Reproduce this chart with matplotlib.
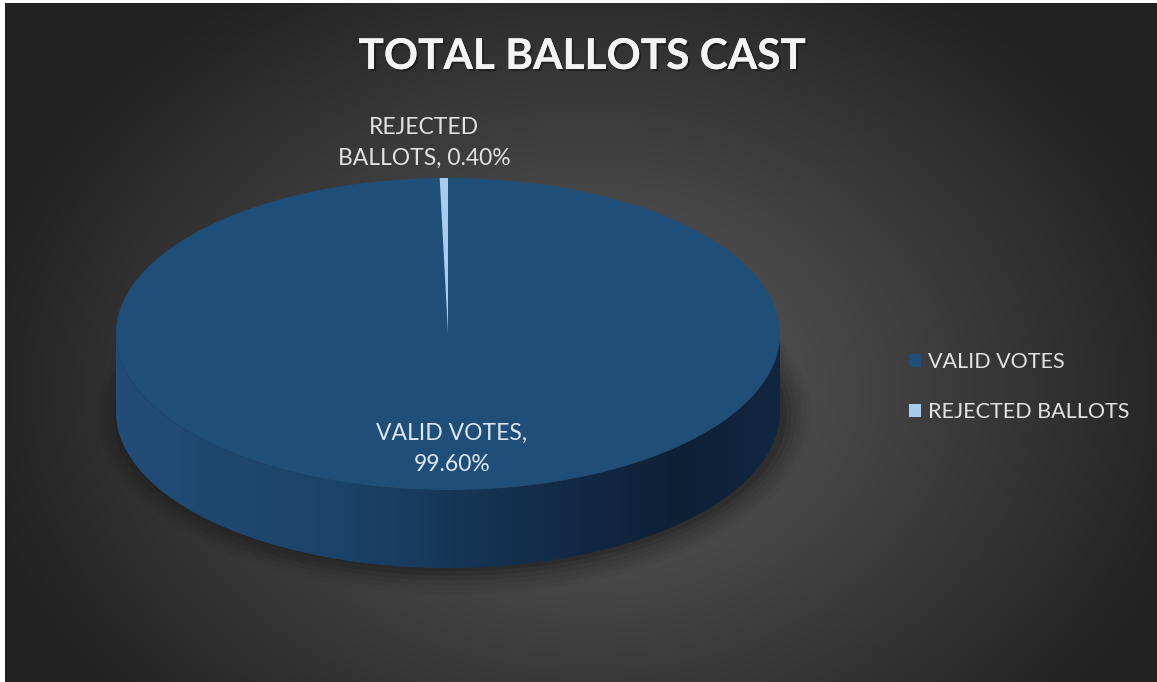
import numpy as np
import matplotlib
matplotlib.use('Agg')
import matplotlib.pyplot as plt
from matplotlib.patches import Polygon, Ellipse, Patch
from matplotlib.colors import LinearSegmentedColormap
import matplotlib.patheffects as pe

# data
categories = ['VALID VOTES', 'REJECTED BALLOTS']
shares = [99.60, 0.40]
slice_colors = ['#1f4e79', '#a9cbef']
title = 'TOTAL BALLOTS CAST'

W, H = 1157, 682
fig = plt.figure(figsize=(W / 100, H / 100), dpi=100)
fig.patch.set_facecolor('white')

# pie geometry in pixels (top ellipse centre, semi axes, thickness)
cx, cy, rx, ry, depth_px = 448, 334, 332, 156, 78
d = depth_px / ry

ax = fig.add_axes([0, 0, 1, 1])
xl = ((0 - cx) / rx, (W - cx) / rx)
yl = ((cy - H) / ry, (cy - 0) / ry)

# radial gray background, small white margin at top/left
yy, xx = np.mgrid[0:H, 0:W]
dist = np.sqrt(((xx - 590) / 620.0) ** 2 + ((yy - 390) / 480.0) ** 2)
shade = np.clip(94 - 60 * dist, 34, 94) / 255.0
bg = np.dstack([shade, shade, shade])
bg[:3, :, :] = 1.0
bg[:, :5, :] = 1.0
ax.imshow(bg, extent=[xl[0], xl[1], yl[0], yl[1]], aspect='auto', zorder=0)

# soft shadow under the disc
for k, a in enumerate(np.linspace(0.10, 0.03, 6)):
    ax.add_patch(Ellipse((0.02, -d - 0.02), 2.0 + 0.03 * k, 2.0 + 0.06 * k,
                         facecolor='black', edgecolor='none', alpha=a, zorder=1))

# side wall of the disc with horizontal gradient
t = np.linspace(np.pi, 2 * np.pi, 200)
top_edge = np.column_stack([np.cos(t), np.sin(t)])
bottom_edge = np.column_stack([np.cos(t[::-1]), np.sin(t[::-1]) - d])
side = Polygon(np.vstack([top_edge, bottom_edge]), closed=True,
               facecolor='none', edgecolor='none', zorder=2)
ax.add_patch(side)
side_cmap = LinearSegmentedColormap.from_list(
    'side', [(0.0, '#224c77'), (0.35, '#1b4268'), (0.6, '#142f4d'),
             (0.85, '#0e2036'), (1.0, '#112640')])
grad = np.linspace(0, 1, 300).reshape(1, -1)
im = ax.imshow(grad, cmap=side_cmap, extent=[-1, 1, -1 - d, 0],
               aspect='auto', zorder=2)
im.set_clip_path(side)

# top surface
wedges, _ = ax.pie(shares, colors=slice_colors, startangle=90,
                   counterclock=False, radius=1, center=(0, 0),
                   wedgeprops=dict(linewidth=0))
for w in wedges:
    w.set_zorder(3)

ax.set_aspect('auto')
ax.set_xlim(*xl)
ax.set_ylim(*yl)
ax.axis('off')

font = 'Lato'
lab_col = '#e2e2e2'

def px(x, y):
    return (x - cx) / rx, (cy - y) / ry

ax.text(*px(424, 143), 'REJECTED\nBALLOTS, 0.40%', color=lab_col,
        fontsize=16.5, family=font, ha='center', va='center',
        linespacing=1.55, zorder=5)
ax.text(*px(452, 449), 'VALID VOTES,\n99.60%', color='#dde6f0',
        fontsize=16.5, family=font, ha='center', va='center',
        linespacing=1.55, zorder=5)

ax.text(*px(582, 57), title, color='#f4f4f4', fontsize=30.5,
        fontweight='bold', family=font, ha='center', va='center', zorder=5,
        path_effects=[pe.withSimplePatchShadow(offset=(1.5, -1.5), alpha=0.35,
                                               shadow_rgbFace='black'),
                      pe.Normal()])

handles = [Patch(facecolor=c, edgecolor='none') for c in slice_colors]
leg = ax.legend(handles, categories, loc='center left',
                bbox_to_anchor=(890 / W, 1 - 387 / H), frameon=False,
                labelcolor=lab_col, handlelength=0.55,
                handleheight=0.55, handletextpad=0.3, labelspacing=1.4,
                prop={'family': font, 'size': 15.5})

fig.savefig('out.png', dpi=100)
